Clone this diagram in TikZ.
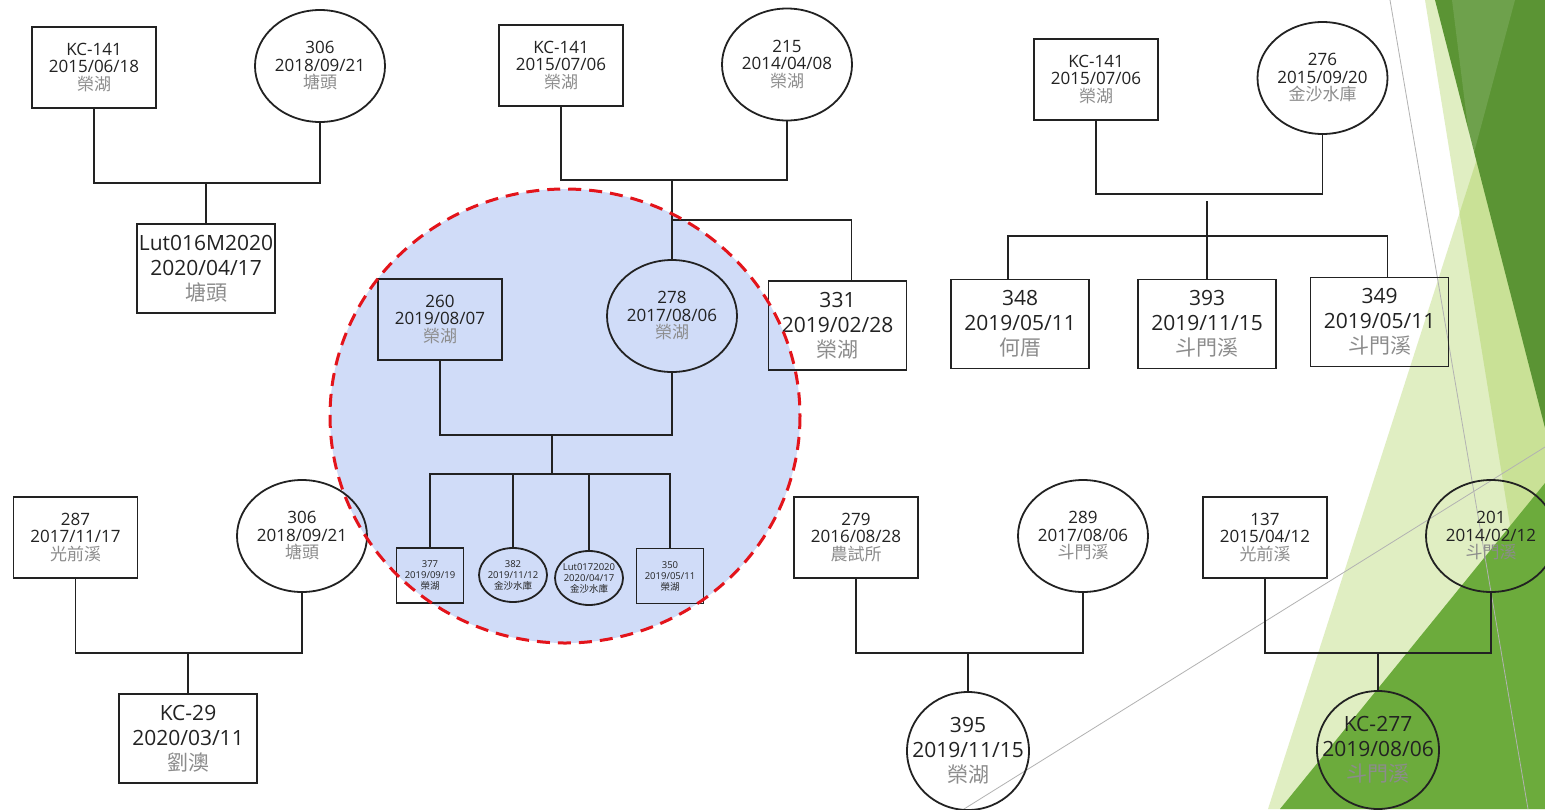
\documentclass[tikz,border=0pt]{standalone}
\usepackage{fontspec}
\setmainfont{Open Sans}
\newfontfamily\cjk{Noto Sans CJK TC}
\usetikzlibrary{shapes.geometric}
\definecolor{PedInk}{HTML}{222222}
\definecolor{PedGrey}{HTML}{8C8C8C}
\definecolor{PedBlue}{HTML}{D0DCF8}
\definecolor{PedRed}{HTML}{E3141B}
\definecolor{FacetGreen}{HTML}{90C226}
\definecolor{FacetDark}{HTML}{5B9434}
\definecolor{FacetMid}{HTML}{6CAB3C}

% id / date / place
\newcommand{\fish}[3]{#1\\#2\\{\cjk\color{PedGrey}#3}}
\newcommand{\fry}[3]{#1\\#2\\{\cjk #3}}

\tikzset{
  sire/.style={draw=PedInk,line width=1.8pt,rectangle,align=center,inner sep=0pt,text=PedInk,
    minimum width=124,minimum height=81,font=\fontsize{17}{17.5}\selectfont},
  dam/.style={sire,ellipse,inner xsep=-20pt,inner ysep=-10pt,minimum width=130,minimum height=112},
  bigsire/.style={sire,minimum width=138,minimum height=89,font=\fontsize{21}{25}\selectfont},
  bigdam/.style={bigsire,ellipse,inner xsep=-20pt,inner ysep=-10pt,minimum width=122,minimum height=118},
  kidsire/.style={sire,minimum width=67,minimum height=55,font=\fontsize{9.5}{11}\selectfont},
  kiddam/.style={kidsire,ellipse,inner xsep=-20pt,inner ysep=-10pt,minimum width=68,minimum height=54},
  tie/.style={draw=PedInk,line width=1.8pt},
}

\begin{document}
\begin{tikzpicture}[x=1pt,y=-1pt]
  \useasboundingbox (0,0) rectangle (1545,809);
  \fill[white] (0,0) rectangle (1545,809);
  % theme backdrop
  \begin{scope}
    \clip (0,0) rectangle (1545,809);
    \fill[FacetGreen,opacity=.28] (1425,0) -- (1545,0) -- (1545,809) -- (1556,809) -- cycle;
    \fill[FacetGreen,opacity=.28] (1268,809) -- (1528,0) -- (1545,0) -- (1545,809) -- cycle;
    \fill[FacetDark] (1435,0) -- (1545,0) -- (1545,428) -- cycle;
    \fill[white,opacity=.12] (1452,0) -- (1515,0) -- (1472,160) -- cycle;
    \fill[FacetMid] (1280,809) -- (1545,483) -- (1545,809) -- cycle;
    \draw[gray!60,line width=.8pt] (1390,0) -- (1528,809);
    \draw[gray!60,line width=.8pt] (964,809) -- (1545,447);
  \end{scope}
  \fill[PedBlue] (565,416) ellipse [x radius=235,y radius=227];

  % top left
  \node[sire] (a1) at (94,67.5) {\fish{KC-141}{2015/06/18}{榮湖}};
  \node[dam] (a2) at (320,66) {\fish{306}{2018/09/21}{塘頭}};
  \node[bigsire] (a3) at (206,268.5) {\fish{Lut016M2020}{2020/04/17}{塘頭}};
  \coordinate (aM) at (206,182);
  \draw[tie] (a1.south) -- ++(0,74) -| (a2.south);
  \draw[tie] (aM) -- (a3.north);

  % top middle
  \node[sire] (b1) at (561,65.5) {\fish{KC-141}{2015/07/06}{榮湖}};
  \node[dam] (b2) at (787,64.5) {\fish{215}{2014/04/08}{榮湖}};
  \node[sire] (b3) at (440,319.5) {\fish{260}{2019/08/07}{榮湖}};
  \node[dam] (b4) at (672,316) {\fish{278}{2017/08/06}{榮湖}};
  \node[bigsire] (b5) at (837.5,325.5) {\fish{331}{2019/02/28}{榮湖}};
  \coordinate (bM) at (672,179);
  \coordinate (bK) at (672,220);
  \draw[tie] (b1.south) -- ++(0,73) -| (b2.south);
  \draw[tie] (bM) -- (b4.north);
  \draw[tie] (bK) -| ([xshift=14pt]b5.north);

  \node[kidsire] (c1) at (430,575.5) {\fry{377}{2019/09/19}{榮湖}};
  \node[kiddam] (c2) at (513,575) {\fry{382}{2019/11/12}{金沙水庫}};
  \node[kiddam] (c3) at (589,578) {\fry{Lut0172020}{2020/04/17}{金沙水庫}};
  \node[kidsire] (c4) at (670,576) {\fry{350}{2019/05/11}{榮湖}};
  \coordinate (bN) at (552,434);
  \coordinate (bS) at (552,474);
  \draw[tie] (b3.south) -- ++(0,74) -| (b4.south);
  \draw[tie] (bN) -- (bS);
  \draw[tie] (c1.north) |- (bS) -| (c4.north);
  \draw[tie] (c2.north) -- (c2.north |- bS);
  \draw[tie] (c3.north) -- (c3.north |- bS);

  % top right
  \node[sire] (d1) at (1096,79.5) {\fish{KC-141}{2015/07/06}{榮湖}};
  \node[dam] (d2) at (1322.5,78) {\fish{276}{2015/09/20}{金沙水庫}};
  \node[bigsire] (d3) at (1020,324) {\fish{348}{2019/05/11}{何厝}};
  \node[bigsire] (d4) at (1207,324) {\fish{393}{2019/11/15}{斗門溪}};
  \node[bigsire] (d5) at (1379.5,322) {\fish{349}{2019/05/11}{斗門溪}};
  \coordinate (dM) at (1207,201);
  \coordinate (dS) at (1207,236);
  \draw[tie] (d1.south) -- ++(0,73) -| (d2.south);
  \draw[tie] (dM) -- (d4.north);
  \draw[tie] ([xshift=-12pt]d3.north) |- (dS) -| ([xshift=8pt]d5.north);

  % bottom left
  \node[sire] (e1) at (75.5,537.5) {\fish{287}{2017/11/17}{光前溪}};
  \node[dam] (e2) at (302,536) {\fish{306}{2018/09/21}{塘頭}};
  \node[bigsire] (e3) at (188,738.5) {\fish{KC-29}{2020/03/11}{劉澳}};
  \coordinate (eM) at (188,652);
  \draw[tie] (e1.south) -- ++(0,74) -| (e2.south);
  \draw[tie] (eM) -- (e3.north);

  % bottom middle
  \node[sire] (f1) at (856,537.5) {\fish{279}{2016/08/28}{農試所}};
  \node[dam] (f2) at (1083,536) {\fish{289}{2017/08/06}{斗門溪}};
  \node[bigdam] (f3) at (968,751) {\fish{395}{2019/11/15}{榮湖}};
  \coordinate (fM) at (968,652);
  \draw[tie] (f1.south) -- ++(0,74) -| (f2.south);
  \draw[tie] (fM) -- (f3.north);

  % bottom right
  \node[sire] (g1) at (1265,537.5) {\fish{137}{2015/04/12}{光前溪}};
  \node[dam] (g2) at (1491,536) {\fish{201}{2014/02/12}{斗門溪}};
  \node[bigdam] (g3) at (1378,750) {\fish{KC-277}{2019/08/06}{斗門溪}};
  \coordinate (gM) at (1378,652);
  \draw[tie] (g1.south) -- ++(0,74) -| (g2.south);
  \draw[tie] (gM) -- (g3.north);

  % highlighted family
  \draw[PedRed,line width=3pt,dash pattern=on 13pt off 8pt] (565,416) ellipse [x radius=235,y radius=227];
\end{tikzpicture}
\end{document}
